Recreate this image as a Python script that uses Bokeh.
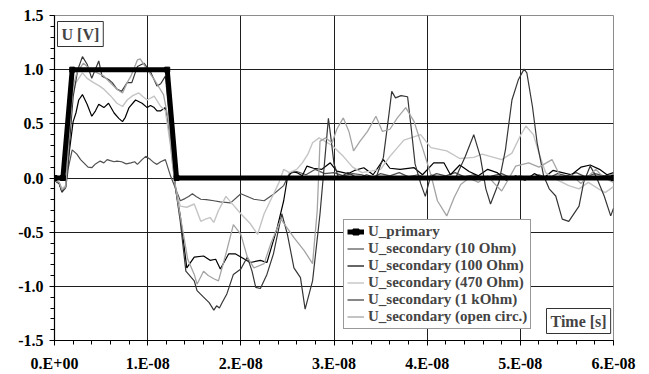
from bokeh.plotting import figure
from bokeh.models import Range1d, SingleIntervalTicker, Legend, LegendItem, Label
from bokeh.embed import file_html
from bokeh.resources import INLINE

# time axis in ns (tick labels shown in seconds)
x_ticks = [0, 10, 20, 30, 40, 50, 60]
x_tick_labels = ["0.E+00", "1.E-08", "2.E-08", "3.E-08", "4.E-08", "5.E-08", "6.E-08"]
y_tick_labels = {-1.5: "-1.5", -1.0: "-1.0", -0.5: "-0.5", 0.0: "0.0", 0.5: "0.5", 1.0: "1.0", 1.5: "1.5"}

series_names = ["U_primary", "U_secondary (10 Ohm)", "U_secondary (100 Ohm)",
                "U_secondary (470 Ohm)", "U_secondary (1 kOhm)", "U_secondary (open circ.)"]

t_primary = [0, 0.9, 1.9, 12.1, 13.1, 60]
u_primary = [0, 0, 1.0, 1.0, 0, 0]

t_10 = [0, 0.5, 0.8, 1.2, 1.5, 1.9, 2.4, 2.8, 3.15, 3.6, 4.0, 4.4, 4.9, 5.3, 5.65, 6.0, 6.4, 6.7, 7.2, 7.7,
        8.2, 8.6, 8.9, 9.4, 9.8, 10.3, 10.7, 11.0, 11.4, 11.9, 12.45, 13.0, 13.5, 14.0, 14.4, 14.8, 15.2, 15.7,
        16.3, 17.1, 17.8, 18.9, 20.0, 21.4, 22.5, 23.5, 24.6, 25.2, 26, 27, 28, 29, 30, 31, 32, 33, 34, 35, 36,
        37, 38, 39, 40, 41, 42, 43, 44, 45, 46, 47, 48, 49, 50, 51, 52, 53, 54, 55, 56, 57, 58, 59, 60]
u_10 = [-0.02, -0.05, -0.13, -0.09, 0.10, 0.26, 0.22, 0.17, 0.14, 0.10, 0.095, 0.13, 0.156, 0.14, 0.17, 0.16,
        0.15, 0.156, 0.15, 0.13, 0.14, 0.15, 0.126, 0.17, 0.20, 0.17, 0.14, 0.126, 0.15, 0.17, 0.02, -0.10,
        -0.21, -0.19, -0.17, -0.145, -0.17, -0.196, -0.20, -0.21, -0.22, -0.23, -0.145, -0.196, -0.21, -0.15,
        -0.07, 0.04, 0.06, 0.03, 0.08, 0.04, 0.05, 0.02, 0.04, 0.03, 0.0, 0.04, 0.02, 0.05, 0.01, 0.03, 0.0,
        0.04, 0.02, 0.05, 0.01, 0.03, -0.02, 0.02, 0.04, 0.0, 0.02, -0.01, 0.03, 0.0, 0.04, 0.02, 0.05, 0.01,
        0.04, 0.02, 0.03]

t_100 = [0, 0.5, 0.8, 1.2, 1.6, 2.0, 2.3, 2.6, 3.0, 3.5, 4.0, 4.4, 4.75, 5.3, 5.8, 6.4, 6.9, 7.3, 7.6, 8.0,
         8.7, 9.4, 9.95, 10.3, 10.7, 11.0, 11.4, 11.9, 12.45, 13.0, 13.5, 14.2, 15.0, 16.0, 16.7, 17.3, 17.8,
         18.7, 19.4, 20.0, 21.0, 22.1, 22.8, 23.9, 24.6, 25.0, 25.5, 26.0, 26.6, 27.1, 27.8, 28.7, 29.6, 30.3,
         31.5, 32.2, 33.2, 34.2, 35.3, 36.0, 37.1, 38.6, 39.5, 40.7, 41.8, 42.5, 43.5, 44.5, 45.5, 46.5, 47.5,
         48.5, 49.5, 50.5, 51.5, 52.5, 53.5, 54.5, 55.5, 56.5, 57.5, 58.5, 59.3, 60]
u_100 = [-0.02, -0.05, -0.12, -0.08, 0.25, 0.52, 0.60, 0.72, 0.77, 0.68, 0.57, 0.62, 0.68, 0.65, 0.69, 0.60,
         0.55, 0.52, 0.56, 0.65, 0.72, 0.69, 0.65, 0.67, 0.65, 0.62, 0.62, 0.65, 0.35, -0.10, -0.35, -0.83,
         -0.73, -0.72, -0.76, -0.75, -0.84, -0.70, -0.70, -0.73, -0.78, -0.76, -0.78, -0.46, -0.21, 0.0, 0.06,
         0.05, 0.02, 0.11, 0.09, 0.08, 0.14, 0.064, 0.04, 0.07, 0.095, 0.03, 0.17, 0.09, 0.08, 0.095, 0.03,
         0.14, 0.14, 0.03, 0.12, 0.06, 0.02, 0.08, 0.05, -0.02, 0.02, -0.02, 0.04, 0.0, 0.07, 0.05, 0.03, 0.10,
         0.12, 0.08, 0.03, 0.05]

t_470 = [0, 0.5, 0.8, 1.2, 1.6, 2.0, 2.3, 3.0, 3.5, 4.2, 4.8, 5.3, 6.0, 6.7, 7.3, 7.8, 8.4, 9.05, 9.5, 9.95,
         10.7, 11.4, 11.9, 12.45, 13.0, 13.5, 14.2, 15.0, 15.7, 16.2, 16.7, 17.1, 17.6, 18.4, 19.2, 20.0, 21.0,
         21.8, 22.5, 23.5, 24.1, 24.6, 25.2, 26.0, 26.6, 27.2, 27.7, 28.4, 29.8, 31.0, 32.0, 33.0, 35.0, 36.0,
         37.5, 39.3, 40.4, 42.1, 43.5, 45.0, 45.9, 48.0, 49.1, 50.0, 50.6, 51.4, 52.0, 52.7, 53.8, 55.2, 56.3,
         57.3, 58.4, 59.1, 60]
u_470 = [-0.02, -0.04, -0.10, -0.07, 0.40, 0.78, 0.88, 0.97, 0.92, 0.88, 0.85, 0.82, 0.76, 0.69, 0.66, 0.72,
         0.76, 0.785, 0.75, 0.72, 0.755, 0.66, 0.62, 0.30, -0.10, -0.26, -0.27, -0.24, -0.40, -0.38, -0.365,
         -0.41, -0.30, -0.17, -0.25, -0.33, -0.42, -0.52, -0.33, -0.15, -0.04, 0.08, 0.05, 0.08, 0.14, 0.22,
         0.325, 0.37, 0.30, 0.20, 0.10, 0.05, 0.08, 0.20, 0.35, 0.40, 0.28, 0.25, 0.18, 0.19, 0.22, 0.17,
         0.23, 0.39, 0.48, 0.40, 0.23, 0.05, -0.01, -0.07, -0.10, -0.04, -0.10, -0.135, -0.08]

t_1k = [0, 0.5, 0.8, 1.2, 1.5, 2.0, 2.5, 3.0, 3.5, 4.0, 4.75, 5.1, 5.8, 6.2, 6.7, 7.2, 7.8, 8.3, 8.9, 9.6,
        10.3, 11.0, 11.4, 11.9, 12.45, 13.0, 13.5, 14.1, 15.0, 15.3, 16.0, 16.6, 17.1, 17.4, 17.7, 18.0, 18.5,
        19.2, 20.0, 20.7, 21.2, 21.6, 22.1, 22.8, 23.5, 24.4, 25.0, 25.7, 26.4, 26.9, 27.7, 28.5, 29.4, 29.7,
        30.0, 30.5, 31.5, 32.5, 33.5, 34.5, 35.3, 35.9, 36.2, 36.6, 37.2, 37.9, 38.3, 38.7, 39.3, 39.8, 40.4,
        41.5, 43.0, 44.1, 45.0, 45.7, 46.3, 46.8, 47.7, 48.4, 49.1, 49.8, 50.4, 50.7, 51.3, 51.8, 52.5, 53.1,
        53.8, 54.5, 55.2, 56.3, 56.8, 57.5, 58.1, 59.0, 59.7, 60]
u_1k = [-0.02, -0.05, -0.13, -0.08, 0.20, 0.75, 1.00, 1.12, 1.05, 0.92, 1.08, 0.94, 0.91, 0.88, 0.82, 0.80,
        0.88, 0.88, 1.03, 1.06, 0.98, 0.85, 0.87, 0.94, 0.45, -0.10, -0.40, -0.86, -0.95, -1.04, -1.10, -1.15,
        -1.22, -1.18, -1.20, -1.15, -1.07, -0.89, -0.84, -0.73, -0.86, -1.01, -1.02, -0.89, -0.70, -0.33,
        -0.52, -0.83, -0.92, -1.21, -0.95, -0.33, 0.55, 0.35, 0.13, 0.0, 0.05, 0.0, 0.03, 0.0, 0.19, 0.59,
        0.80, 0.74, 0.76, 0.75, 0.45, 0.13, -0.05, -0.17, 0.03, 0.0, -0.01, 0.20, 0.40, 0.20, -0.10, -0.24,
        -0.04, 0.26, 0.72, 0.91, 1.005, 0.97, 0.66, 0.325, 0.02, -0.10, -0.166, -0.38, -0.40, -0.26, -0.04,
        0.11, 0.02, -0.166, -0.35, -0.28]

t_open = [0, 0.5, 0.8, 1.2, 1.6, 2.0, 2.4, 3.1, 3.9, 4.6, 5.3, 6.0, 6.7, 7.3, 7.8, 8.2, 8.9, 9.2, 9.95, 10.7,
          11.2, 11.7, 12.2, 12.7, 13.2, 13.7, 14.3, 15.0, 15.3, 16.0, 16.5, 17.1, 17.6, 18.4, 19.2, 20.0, 20.7,
          21.4, 22.5, 23.2, 24.3, 25.7, 26.8, 27.7, 28.2, 28.5, 29.1, 29.8, 30.3, 31.0, 31.6, 32.1, 32.8, 33.6,
          34.5, 35.2, 36.0, 36.8, 37.7, 38.6, 39.6, 40.4, 41.1, 42.1, 42.9, 43.6, 44.5, 45.5, 46.5, 47.2, 48.0,
          48.8, 49.5, 50.9, 52.0, 53.4, 54.5, 55.5, 56.5, 58.1, 59.0, 60]
u_open = [-0.02, -0.04, -0.11, -0.08, 0.45, 0.85, 0.97, 1.06, 1.00, 0.97, 0.94, 0.88, 0.82, 0.785, 0.88,
          0.94, 1.09, 1.10, 1.00, 0.91, 0.84, 0.77, 0.55, 0.10, -0.20, -0.45, -0.75, -0.89, -0.98, -0.86,
          -0.90, -0.93, -0.95, -0.70, -0.43, -0.52, -0.73, -0.83, -0.79, -0.61, -0.38, -0.55, -0.67, -0.79,
          -0.30, 0.34, 0.37, 0.325, 0.45, 0.555, 0.43, 0.25, 0.34, 0.43, 0.57, 0.43, 0.45, 0.555, 0.65, 0.52,
          0.25, 0.03, -0.21, -0.35, -0.18, -0.06, 0.0, -0.04, 0.02, -0.05, -0.12, 0.0, 0.11, 0.14, 0.10, 0.17,
          -0.02, 0.03, -0.05, 0.08, 0.0, -0.04]

colors = ["#000000", "#505050", "#000000", "#c4c4c4", "#363636", "#a4a4a4"]

FONT = "Liberation Serif"

p = figure(width=649, height=374, output_backend="svg", toolbar_location=None,
           x_range=Range1d(0, 60), y_range=Range1d(-1.5, 1.5),
           min_border_left=54, min_border_right=36, min_border_top=15, min_border_bottom=33)
p.background_fill_color = "white"
p.border_fill_color = "white"
p.outline_line_color = "#8c8c8c"
p.outline_line_width = 1

p.xaxis.ticker = SingleIntervalTicker(interval=10, num_minor_ticks=5)
p.yaxis.ticker = SingleIntervalTicker(interval=0.5, num_minor_ticks=5)
p.xaxis.major_label_overrides = {t: s for t, s in zip(x_ticks, x_tick_labels)}
p.yaxis.major_label_overrides = y_tick_labels

for ax in (p.xaxis[0], p.yaxis[0]):
    ax.axis_line_color = "black"
    ax.axis_line_width = 1.2
    ax.major_tick_line_color = "black"
    ax.minor_tick_line_color = "black"
    ax.major_tick_in = 0
    ax.minor_tick_in = 0
    ax.major_tick_out = 5
    ax.minor_tick_out = 4
    ax.major_label_text_font = FONT
    ax.major_label_text_font_style = "bold"
    ax.major_label_text_font_size = "16px"
    ax.major_label_text_color = "black"
p.xaxis.major_label_standoff = 9
p.yaxis.major_label_standoff = 6

p.xgrid.grid_line_color = "#1e1e1e"
p.ygrid.grid_line_color = "#1e1e1e"
p.xgrid.grid_line_width = 1
p.ygrid.grid_line_width = 1

r10 = p.line(t_10, u_10, line_color=colors[1], line_width=1.2)
r100 = p.line(t_100, u_100, line_color=colors[2], line_width=1.2)
r470 = p.line(t_470, u_470, line_color=colors[3], line_width=1.4)
r1k = p.line(t_1k, u_1k, line_color=colors[4], line_width=1.2)
ropen = p.line(t_open, u_open, line_color=colors[5], line_width=1.3)
rp = p.line(t_primary, u_primary, line_color=colors[0], line_width=5)
rpm = p.scatter(t_primary, u_primary, marker="square", size=5, color=colors[0])

legend = Legend(items=[
    LegendItem(label=series_names[0], renderers=[rp, rpm]),
    LegendItem(label=series_names[1], renderers=[r10]),
    LegendItem(label=series_names[2], renderers=[r100]),
    LegendItem(label=series_names[3], renderers=[r470]),
    LegendItem(label=series_names[4], renderers=[r1k]),
    LegendItem(label=series_names[5], renderers=[ropen]),
], location=(289, 11))
legend.margin = 0
legend.padding = 3
legend.spacing = 0
legend.glyph_width = 17
legend.glyph_height = 15
legend.label_height = 15
legend.label_standoff = 4
legend.label_text_font = FONT
legend.label_text_font_style = "bold"
legend.label_text_font_size = "15px"
legend.border_line_color = "#333333"
legend.border_line_width = 1
legend.background_fill_color = "white"
legend.background_fill_alpha = 1
p.add_layout(legend, "center")

lab_u = Label(x=3, y=294, x_units="screen", y_units="screen", text="U [V]",
              text_font=FONT, text_font_style="bold", text_font_size="16px",
              text_align="left", text_baseline="bottom",
              border_line_color="#333333", background_fill_color="white", padding=4)
lab_t = Label(x=492, y=7, x_units="screen", y_units="screen", text="Time [s]",
              text_font=FONT, text_font_style="bold", text_font_size="16px",
              text_align="left", text_baseline="bottom",
              border_line_color="#333333", background_fill_color="white", padding=4)
p.add_layout(lab_u)
p.add_layout(lab_t)

open("out.html", "w").write(file_html(p, INLINE))
